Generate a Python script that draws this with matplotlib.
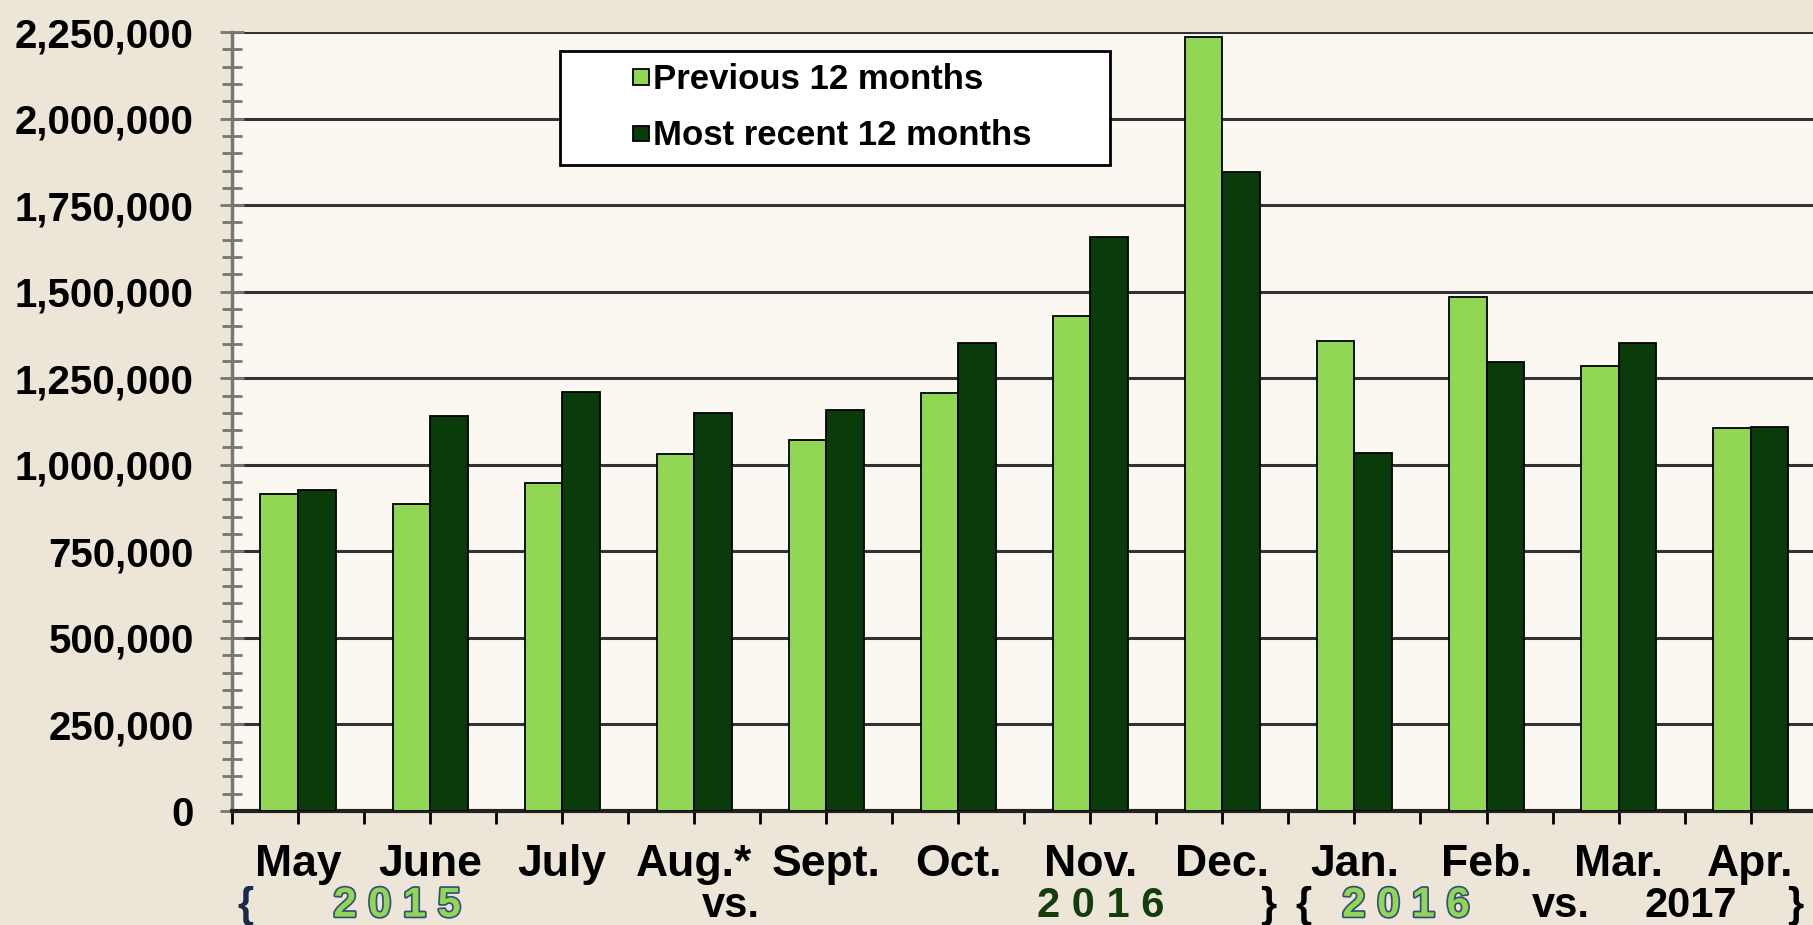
import numpy as np
import matplotlib.pyplot as plt
import matplotlib.patheffects as pe
from matplotlib import transforms
from matplotlib.patches import Rectangle
from matplotlib.legend_handler import HandlerPatch
from matplotlib.ticker import MultipleLocator, FuncFormatter

# monthly values
months = ["May", "June", "July", "Aug.*", "Sept.", "Oct.", "Nov.", "Dec.",
          "Jan.", "Feb.", "Mar.", "Apr."]
previous = [917000, 886000, 947000, 1030000, 1072000, 1207000, 1430000, 2237000,
            1359000, 1486000, 1286000, 1106000]
recent = [928000, 1142000, 1209000, 1149000, 1158000, 1352000, 1659000, 1846000,
          1034000, 1296000, 1351000, 1109000]
series_names = ["Previous 12 months", "Most recent 12 months"]

# period row under the month names
period_text = ["{", "2 0 1 5", "vs.", "2 0 1 6", "}", "{", "2 0 1 6", "vs.", "2017", "}"]
period_x = [-0.40, 0.75, 3.28, 6.08, 7.35, 7.61, 8.39, 9.56, 10.55, 11.34]
period_color = ["#1b2a4a", "#92d656", "black", "#143d0c", "black", "black",
                "#92d656", "black", "black", "black"]

light = "#92d656"
dark = "#0a3b0b"

plt.rcParams['font.family'] = ['Liberation Sans', 'DejaVu Sans']
plt.rcParams['font.weight'] = 'bold'

fig = plt.figure(figsize=(18.13, 9.25), dpi=100, facecolor="#ede5d8")
ax = fig.add_axes([0.128, 0.1232, 0.874, 0.8422])
ax.set_facecolor("#fbf8f2")

x = np.arange(len(months))
w = 0.285
ax.bar(x - w / 2, previous, w, color=light, edgecolor="black", linewidth=1.3,
       zorder=3)
ax.bar(x + w / 2, recent, w, color=dark, edgecolor="black", linewidth=1.3,
       zorder=3)

ax.set_xlim(-0.5, 11.5)
ax.set_ylim(0, 2250000)

#%% axes, ticks, grid
ax.yaxis.set_major_locator(MultipleLocator(250000))
ax.yaxis.set_minor_locator(MultipleLocator(50000))
ax.yaxis.set_major_formatter(FuncFormatter(lambda v, p: f"{int(v):,}"))
ax.grid(axis="y", which="major", color="#333333", linewidth=2.2, zorder=1)
ax.set_axisbelow(True)

ax.set_xticks(x)
ax.set_xticklabels(months)
ax.set_xticks(np.arange(-0.5, 12, 1), minor=True)

ax.tick_params(axis="y", which="major", direction="inout", length=17, width=2,
               color="#777777", labelsize=29, pad=19)
ax.tick_params(axis="y", which="minor", direction="inout", length=14, width=2,
               color="#777777")
ax.tick_params(axis="x", which="both", direction="out", length=9, width=2,
               color="black")
ax.tick_params(axis="x", which="major", labelsize=32, pad=15)

for s in ["top", "right"]:
    ax.spines[s].set_visible(False)
ax.spines["left"].set_color("#777777")
ax.spines["left"].set_linewidth(2.5)
ax.spines["bottom"].set_color("#222222")
ax.spines["bottom"].set_linewidth(3)

for lab in ax.get_xticklabels() + ax.get_yticklabels():
    lab.set_fontweight("bold")


#%% legend: small square swatch sitting at the right end of the handle box
def small_square(legend, orig_handle, xdescent, ydescent, width, height, fontsize):
    s = 0.45 * fontsize
    return Rectangle((width - xdescent - s, -ydescent + (height - s) / 2), s, s)


proxies = [Rectangle((0, 0), 1, 1, facecolor=c, edgecolor="black", linewidth=1.3)
           for c in (light, dark)]
leg = ax.legend(proxies, series_names, loc="upper left",
                bbox_to_anchor=(0.207, 0.83, 0.347, 0.146),
                mode="expand", frameon=True, fancybox=False, fontsize=25,
                handlelength=2.2, handleheight=0.7, handletextpad=0.12,
                labelspacing=0.68, borderpad=0.35, borderaxespad=0,
                handler_map={Rectangle: HandlerPatch(patch_func=small_square)})
leg.get_frame().set_edgecolor("black")
leg.get_frame().set_linewidth(2)
leg.get_frame().set_facecolor("white")
leg.get_frame().set_alpha(1)
for t in leg.get_texts():
    t.set_fontweight("bold")

#%% period row
trans = transforms.blended_transform_factory(ax.transData, fig.transFigure)
for txt, px, c in zip(period_text, period_x, period_color):
    effects = None
    if c == light:
        effects = [pe.Stroke(linewidth=2.5, foreground="#34507a"), pe.Normal()]
    ax.text(px, 0.021, txt, transform=trans, ha="center", va="center",
            fontsize=30, fontweight="bold", color=c, clip_on=False,
            family=['Liberation Sans Narrow', 'Liberation Sans'],
            path_effects=effects)

fig.savefig("out.png", dpi=100, facecolor=fig.get_facecolor())
